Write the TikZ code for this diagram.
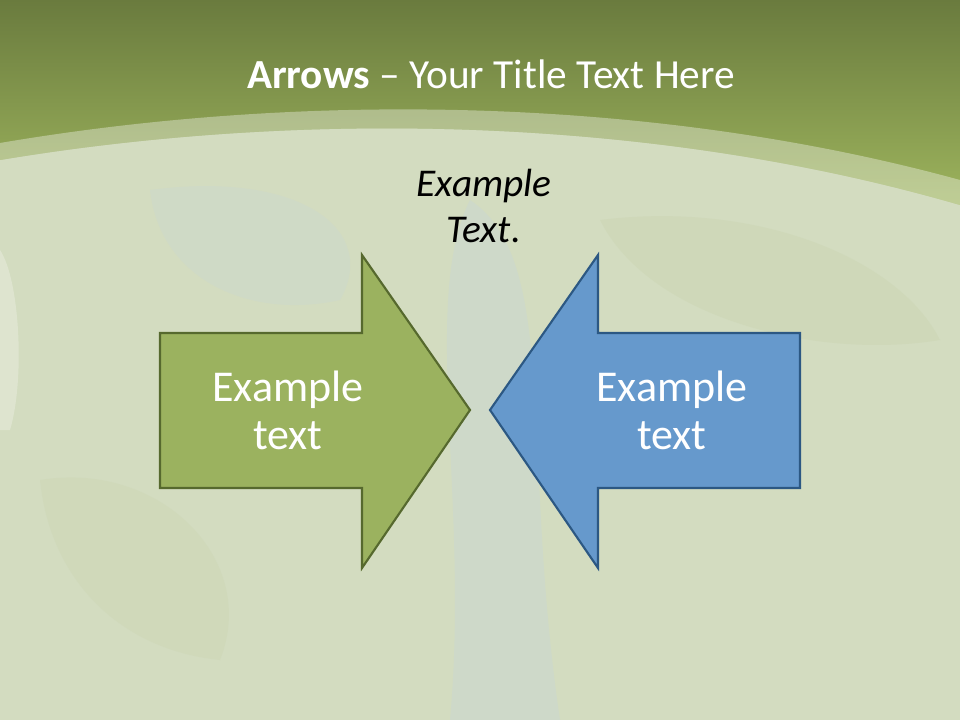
\documentclass[tikz,border=0pt]{standalone}
\usepackage{fontspec}
\setmainfont{Carlito}
\begin{document}
\begin{tikzpicture}[x=0.75pt,y=-0.75pt]
\definecolor{bgpale}{HTML}{D3DCC0}
\definecolor{bgblue}{HTML}{C3D3DF}
\definecolor{bggreen}{HTML}{C4CFA6}
\definecolor{hdtop}{HTML}{6A7B3E}
\definecolor{hdbot}{HTML}{9DB45D}
\definecolor{grfill}{HTML}{9BB25F}
\definecolor{grline}{HTML}{56692E}
\definecolor{blfill}{HTML}{6699CC}
\definecolor{blline}{HTML}{2C5883}
\tikzset{
  arrowtext/.style={text=white, align=center, font=\fontsize{33}{36}\selectfont},
  grarrow/.style={fill=grfill, draw=grline, line width=1.6pt, line join=miter},
  blarrow/.style={fill=blfill, draw=blline, line width=1.6pt, line join=miter},
}
\useasboundingbox (0,0) rectangle (960,720);
% background
\fill[bgpale] (0,0) rectangle (960,720);
% faint texture
\fill[bgblue, opacity=0.3] (470,200) .. controls (560,260) and (520,450) .. (560,720) -- (450,720) .. controls (470,500) and (420,300) .. (470,200) -- cycle;
\fill[bgblue, opacity=0.2] (150,190) .. controls (300,170) and (380,230) .. (340,300) .. controls (250,320) and (160,280) .. (150,190) -- cycle;
\fill[bggreen, opacity=0.25] (600,220) .. controls (760,200) and (900,260) .. (940,340) .. controls (820,360) and (650,320) .. (600,220) -- cycle;
\fill[bggreen, opacity=0.2] (40,480) .. controls (160,460) and (260,560) .. (220,660) .. controls (120,650) and (50,580) .. (40,480) -- cycle;
\fill[white, opacity=0.25] (0,250) .. controls (20,280) and (25,380) .. (10,430) -- (0,430) -- cycle;
% header
\shade[top color=hdtop, bottom color=hdbot] (0,0) -- (960,0) -- (960,205) .. controls (650,115) and (300,110) .. (0,160) -- cycle;
\fill[white, opacity=0.35] (0,143) .. controls (300,92) and (650,95) .. (960,180) -- (960,205) .. controls (650,115) and (300,110) .. (0,160) -- cycle;
% title
\node[text=white, font=\fontsize{31}{36}\selectfont] (title) at (491,74) {\textbf{Arrows} -- Your Title Text Here};
% top text
\node[align=center, font=\fontsize{29.5}{35}\selectfont\itshape] (toptext) at (484,206) {Example\\Text.};
% arrows
\draw[grarrow] (160,333) -- (362,333) -- (362,255) -- (470,410) -- (362,568) -- (362,488) -- (160,488) -- cycle;
\draw[blarrow] (800,333) -- (598,333) -- (598,255) -- (490,410) -- (598,568) -- (598,488) -- (800,488) -- cycle;
\node[arrowtext] (gtext) at (288,410) {Example\\text};
\node[arrowtext] (btext) at (672,410) {Example\\text};
\end{tikzpicture}
\end{document}
